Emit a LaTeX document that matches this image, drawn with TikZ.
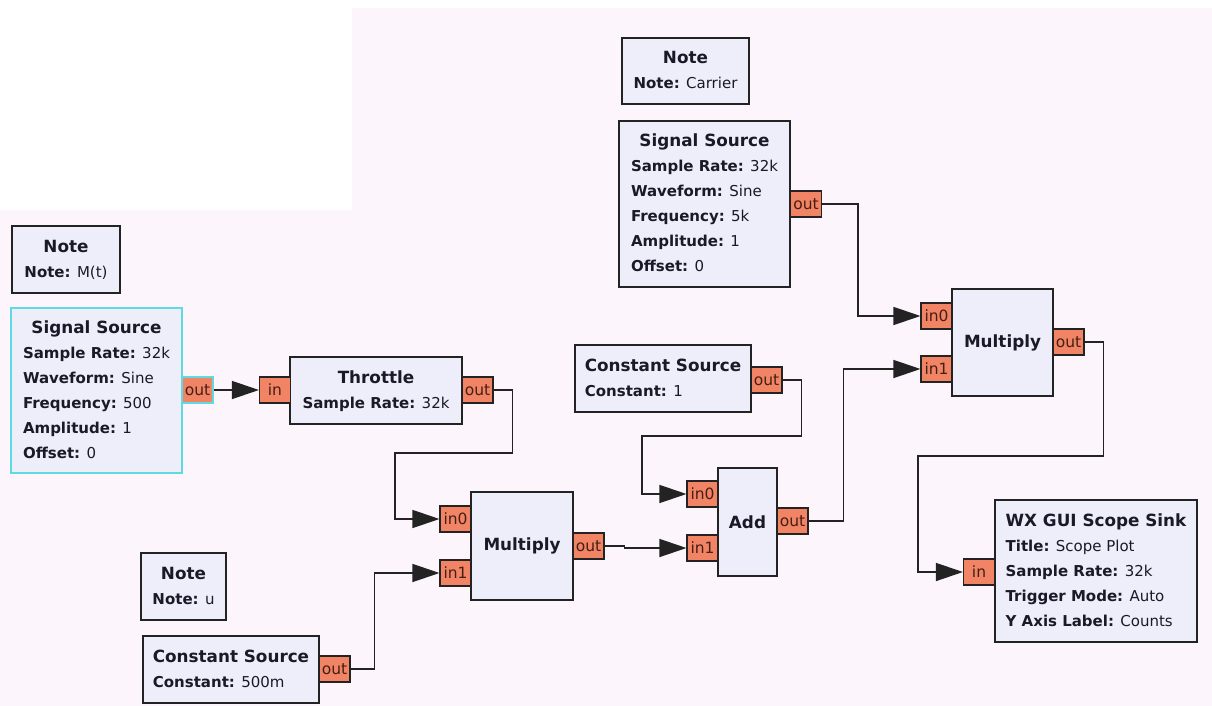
\documentclass[tikz,border=0pt]{standalone}
\usepackage{fontspec}
\setmainfont{DejaVu Sans}
\usetikzlibrary{arrows.meta}
\definecolor{bgpink}{RGB}{252,246,252}
\definecolor{blkfill}{RGB}{238,238,250}
\definecolor{portfill}{RGB}{240,132,100}
\definecolor{selcol}{RGB}{95,218,226}
\definecolor{lncol}{RGB}{35,35,35}
\definecolor{txtcol}{RGB}{25,25,40}
\definecolor{porttxt}{RGB}{70,30,20}
\newcommand{\tfont}{\fontsize{16.8}{25}\selectfont\bfseries}
\newcommand{\ttl}[1]{\multicolumn{1}{@{}c@{}}{\tfont #1}}
\newcommand{\kv}[2]{\textbf{#1:} #2}
\newcommand{\btab}[1]{\begin{tabular}{@{}l@{}}#1\end{tabular}}
\tikzset{
  blockbox/.style={draw=lncol, line width=1.4pt, fill=blkfill, inner sep=0pt,
    text=txtcol, font=\fontsize{15}{25}\selectfont},
  portbox/.style={draw=lncol, line width=1.1pt, fill=portfill, inner sep=0pt,
    minimum width=31pt, minimum height=26pt, text=porttxt,
    font=\fontsize{15.5}{18}\selectfont},
  wire/.style={draw=lncol, line width=1.4pt, -{Triangle[length=27pt,width=18pt]}},
}
\begin{document}
\begin{tikzpicture}[x=1pt,y=-1pt]
\useasboundingbox (0,0) rectangle (1212,706);
\fill[bgpink] (0,0) rectangle (1212,706);
\fill[white] (0,0) rectangle (1212,8);
\fill[white] (0,0) rectangle (352,210);

% notes
\node[blockbox, minimum width=108pt, minimum height=67pt] (note1) at (66,259.5)
  {\btab{\ttl{Note}\\ \kv{Note}{M(t)}}};
\node[blockbox, minimum width=85pt, minimum height=67pt] (noteu) at (183.5,586.5)
  {\btab{\ttl{Note}\\ \kv{Note}{u}}};
\node[blockbox, minimum width=127pt, minimum height=66pt] (notec) at (685.5,71)
  {\btab{\ttl{Note}\\ \kv{Note}{Carrier}}};

% signal source 1 (selected)
\node[blockbox, draw=selcol, minimum width=171pt, minimum height=165pt] (ss1) at (96.5,390.5)
  {\btab{\ttl{Signal Source}\\ \kv{Sample Rate}{32k}\\ \kv{Waveform}{Sine}\\ \kv{Frequency}{500}\\ \kv{Amplitude}{1}\\ \kv{Offset}{0}}};
\node[portbox, draw=selcol] (ss1out) at (197.5,390) {out};

% throttle
\node[blockbox, minimum width=172pt, minimum height=67pt] (thr) at (376,390.5)
  {\btab{\ttl{Throttle}\\ \kv{Sample Rate}{32k}}};
\node[portbox] (thrin) at (275,390) {in};
\node[portbox] (throut) at (477.5,390) {out};

% multiply 1
\node[blockbox, minimum width=102pt, minimum height=108pt] (mul1) at (522,546) {\tfont Multiply};
\node[portbox] (m1in0) at (455.5,519) {in0};
\node[portbox] (m1in1) at (455.5,573) {in1};
\node[portbox] (m1out) at (588.5,546) {out};

% constant source 500m
\node[blockbox, minimum width=176pt, minimum height=67pt] (cs500) at (231,669.5)
  {\btab{\ttl{Constant Source}\\ \kv{Constant}{500m}}};
\node[portbox] (cs500out) at (334.5,669) {out};

% constant source 1
\node[blockbox, minimum width=176pt, minimum height=67pt] (cs1) at (663,378.5)
  {\btab{\ttl{Constant Source}\\ \kv{Constant}{1}}};
\node[portbox] (cs1out) at (766.5,380) {out};

% add
\node[blockbox, minimum width=59pt, minimum height=108pt] (add) at (747.5,522) {\tfont Add};
\node[portbox] (addin0) at (702.5,494) {in0};
\node[portbox] (addin1) at (702.5,548) {in1};
\node[portbox] (addout) at (792.5,521) {out};

% signal source 2
\node[blockbox, minimum width=171pt, minimum height=166pt] (ss2) at (704.5,204)
  {\btab{\ttl{Signal Source}\\ \kv{Sample Rate}{32k}\\ \kv{Waveform}{Sine}\\ \kv{Frequency}{5k}\\ \kv{Amplitude}{1}\\ \kv{Offset}{0}}};
\node[portbox] (ss2out) at (806,204) {out};

% multiply 2
\node[blockbox, minimum width=101pt, minimum height=107pt] (mul2) at (1002.5,342.5) {\tfont Multiply};
\node[portbox] (m2in0) at (936.5,316) {in0};
\node[portbox] (m2in1) at (936.5,369) {in1};
\node[portbox] (m2out) at (1068.5,342) {out};

% scope sink
\node[blockbox, minimum width=202pt, minimum height=142pt] (scope) at (1096,571)
  {\btab{\ttl{WX GUI Scope Sink}\\ \kv{Title}{Scope Plot}\\ \kv{Sample Rate}{32k}\\ \kv{Trigger Mode}{Auto}\\ \kv{Y Axis Label}{Counts}}};
\node[portbox] (scin) at (979,572) {in};

% connections
\draw[wire] (ss1out.east) -- (thrin.west);
\draw[wire] (throut.east) -- ++(19,0) |- (395,453) |- (m1in0.west);
\draw[wire] (cs500out.east) -- ++(24,0) |- (m1in1.west);
\draw[wire] (m1out.east) -- ++(20,0) |- (addin1.west);
\draw[wire] (cs1out.east) -- ++(19,0) |- (642,436) |- (addin0.west);
\draw[wire] (addout.east) -- ++(35,0) |- (m2in1.west);
\draw[wire] (ss2out.east) -- ++(36,0) |- (m2in0.west);
\draw[wire] (m2out.east) -- ++(19,0) |- (918,456) |- (scin.west);
\end{tikzpicture}
\end{document}
